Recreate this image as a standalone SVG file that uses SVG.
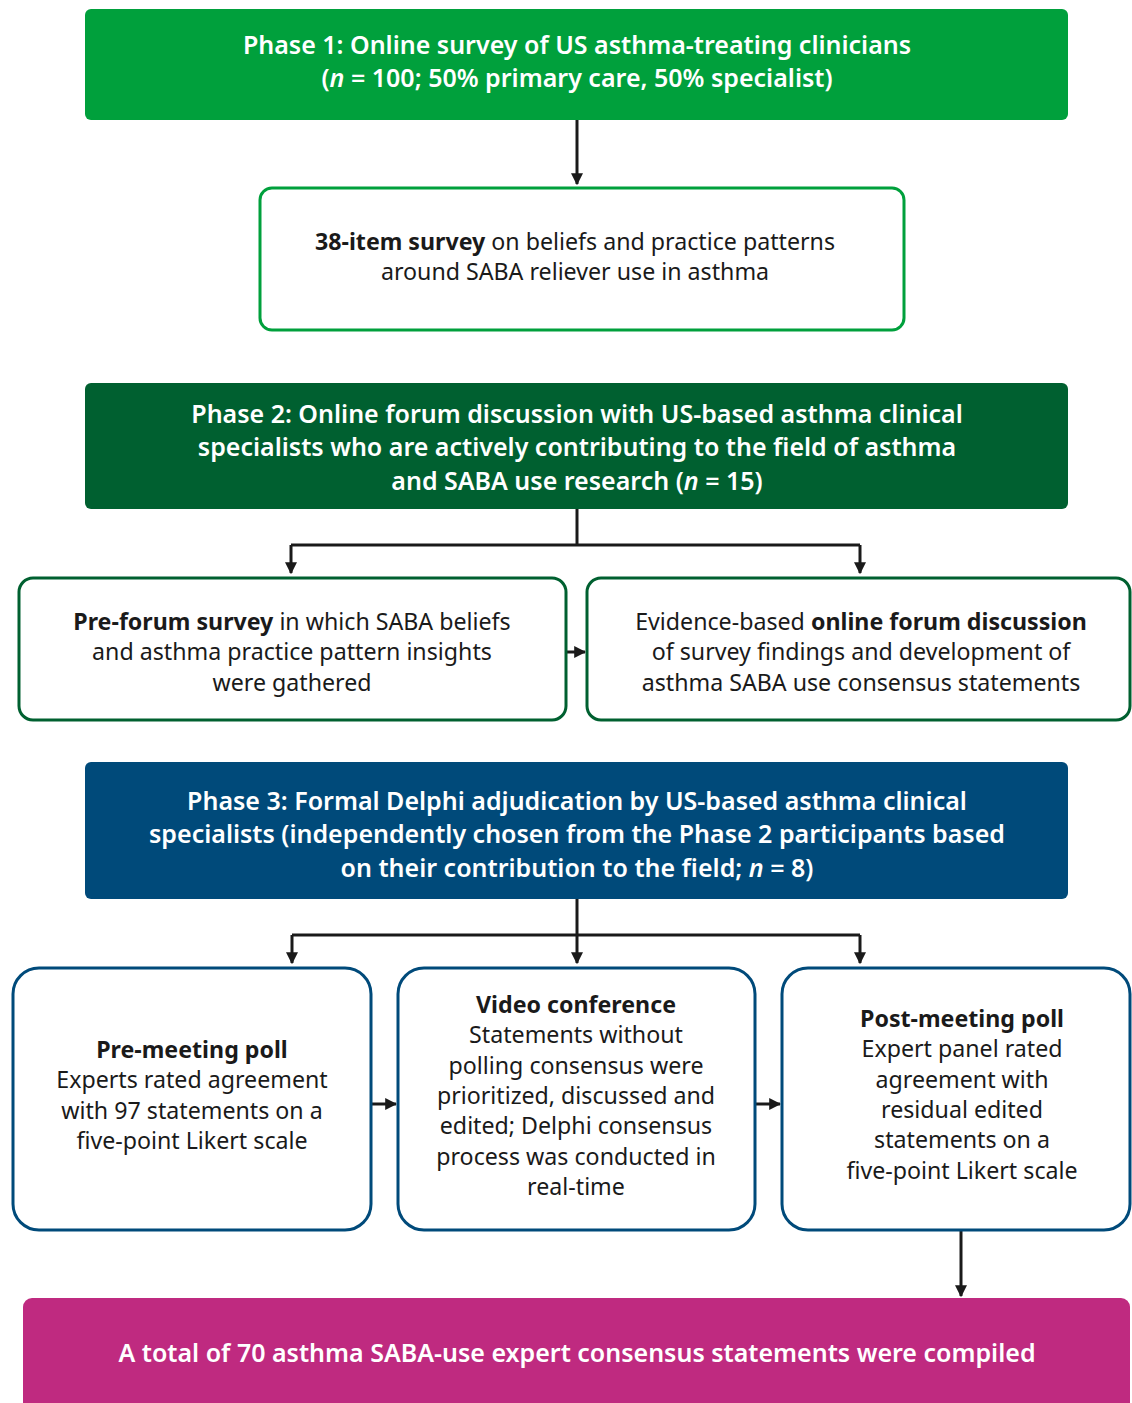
<svg xmlns="http://www.w3.org/2000/svg" width="1132" height="1403" viewBox="0 0 1132 1403">
<defs>
<marker id="ah" markerWidth="4" markerHeight="4" refX="3.6" refY="2" orient="auto" markerUnits="strokeWidth">
<path d="M0,0 L4,2 L0,4 Z" fill="#1a1a1a"/>
</marker>
<style>
text{font-family:"Noto Sans","Open Sans","Liberation Sans",sans-serif;text-anchor:middle}
.h{fill:#fff;font-size:25px;font-weight:600}
.t{fill:#1a1a1a;font-size:23.2px}
.b{font-weight:700}
.i{font-style:italic}
.c{fill:none;stroke:#1a1a1a;stroke-width:3}
.g{fill:#fff;stroke:#00a03c;stroke-width:3}
.dg{fill:#fff;stroke:#006030;stroke-width:3}
.bl{fill:#fff;stroke:#004a7a;stroke-width:3}
</style>
</defs>
<rect width="1132" height="1403" fill="#fff"/>
<g id="connectors">
<path class="c" d="M577,120 V184" marker-end="url(#ah)"/>
<path class="c" d="M577,509 V545"/>
<path class="c" d="M291,545 H860"/>
<path class="c" d="M291,545 V573" marker-end="url(#ah)"/>
<path class="c" d="M860,545 V573" marker-end="url(#ah)"/>
<path class="c" d="M566,652 H585" marker-end="url(#ah)"/>
<path class="c" d="M577,899 V963" marker-end="url(#ah)"/>
<path class="c" d="M292,935 H860"/>
<path class="c" d="M292,935 V963" marker-end="url(#ah)"/>
<path class="c" d="M860,935 V963" marker-end="url(#ah)"/>
<path class="c" d="M371,1104 H396" marker-end="url(#ah)"/>
<path class="c" d="M755,1104 H780" marker-end="url(#ah)"/>
<path class="c" d="M961,1230 V1296" marker-end="url(#ah)"/>
</g>
<g id="phase1">
<rect x="85" y="9" width="983" height="111" rx="6" fill="#00a03c"/>
<text class="h" x="577" y="54">Phase 1: Online survey of US asthma-treating clinicians</text>
<text class="h" x="577" y="87">(<tspan class="i">n</tspan> = 100; 50% primary care, 50% specialist)</text>
</g>
<g id="survey38">
<rect class="g" x="260" y="188" width="644" height="142" rx="12"/>
<text class="t" x="575" y="250"><tspan class="b">38-item survey</tspan> on beliefs and practice patterns</text>
<text class="t" x="575" y="280">around SABA reliever use in asthma</text>
</g>
<g id="phase2">
<rect x="85" y="383" width="983" height="126" rx="6" fill="#006030"/>
<text class="h" x="577" y="423">Phase 2: Online forum discussion with US-based asthma clinical</text>
<text class="h" x="577" y="456">specialists who are actively contributing to the field of asthma</text>
<text class="h" x="577" y="490">and SABA use research (<tspan class="i">n</tspan> = 15)</text>
</g>
<g id="preforum">
<rect class="dg" x="19" y="578" width="547" height="142" rx="14"/>
<text class="t" x="292" y="630"><tspan class="b">Pre-forum survey</tspan> in which SABA beliefs</text>
<text class="t" x="292" y="660">and asthma practice pattern insights</text>
<text class="t" x="292" y="691">were gathered</text>
</g>
<g id="forum">
<rect class="dg" x="587" y="578" width="543" height="142" rx="14"/>
<text class="t" x="861" y="630">Evidence-based <tspan class="b">online forum discussion</tspan></text>
<text class="t" x="861" y="660">of survey findings and development of</text>
<text class="t" x="861" y="691">asthma SABA use consensus statements</text>
</g>
<g id="phase3">
<rect x="85" y="762" width="983" height="137" rx="6" fill="#004a7a"/>
<text class="h" x="577" y="810">Phase 3: Formal Delphi adjudication by US-based asthma clinical</text>
<text class="h" x="577" y="843">specialists (independently chosen from the Phase 2 participants based</text>
<text class="h" x="577" y="877">on their contribution to the field; <tspan class="i">n</tspan> = 8)</text>
</g>
<g id="premeeting">
<rect class="bl" x="13" y="968" width="358" height="262" rx="26"/>
<text class="t b" x="192" y="1058">Pre-meeting poll</text>
<text class="t" x="192" y="1088">Experts rated agreement</text>
<text class="t" x="192" y="1119">with 97 statements on a</text>
<text class="t" x="192" y="1149">five-point Likert scale</text>
</g>
<g id="video">
<rect class="bl" x="398" y="968" width="357" height="262" rx="26"/>
<text class="t b" x="576" y="1013">Video conference</text>
<text class="t" x="576" y="1043">Statements without</text>
<text class="t" x="576" y="1074">polling consensus were</text>
<text class="t" x="576" y="1104">prioritized, discussed and</text>
<text class="t" x="576" y="1134">edited; Delphi consensus</text>
<text class="t" x="576" y="1165">process was conducted in</text>
<text class="t" x="576" y="1195">real-time</text>
</g>
<g id="postmeeting">
<rect class="bl" x="782" y="968" width="348" height="262" rx="26"/>
<text class="t b" x="962" y="1027">Post-meeting poll</text>
<text class="t" x="962" y="1057">Expert panel rated</text>
<text class="t" x="962" y="1088">agreement with</text>
<text class="t" x="962" y="1118">residual edited</text>
<text class="t" x="962" y="1148">statements on a</text>
<text class="t" x="962" y="1179">five-point Likert scale</text>
</g>
<g id="final">
<rect x="23" y="1298" width="1107" height="120" rx="9" fill="#bf2a80"/>
<text class="h" x="577" y="1362">A total of 70 asthma SABA-use expert consensus statements were compiled</text>
</g>
</svg>
